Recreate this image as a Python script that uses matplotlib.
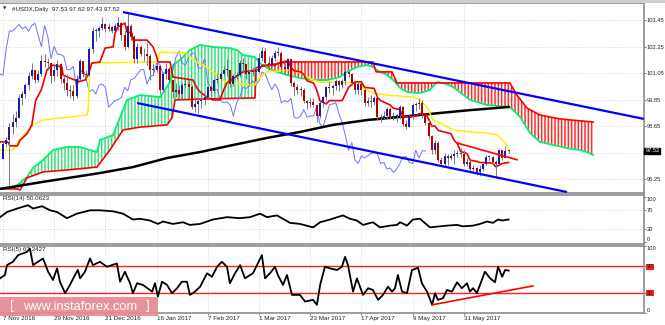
import numpy as np
import matplotlib.pyplot as plt
from matplotlib import font_manager
from matplotlib.patches import Polygon, Rectangle

# USDX daily bars, 7 Nov 2016 .. 20 Jun 2017 (bar index 0..158)
first_open = 97.15
closes = [97.85, 98.00, 98.60, 98.85, 99.00, 99.90, 100.10, 100.50, 100.90, 101.20,
          100.75, 101.00, 101.60, 101.55, 101.50, 100.90, 101.20, 101.45, 100.80, 100.60,
          100.30, 100.25, 100.00, 100.80, 101.60, 101.00, 100.95, 102.15, 102.95, 102.95,
          103.10, 103.25, 103.05, 103.15, 102.95, 103.20, 103.30, 102.75, 102.25, 103.20,
          102.70, 101.70, 102.25, 101.90, 101.90, 101.80, 101.20, 101.20, 101.35, 100.30,
          101.00, 101.25, 100.75, 100.20, 100.30, 100.10, 100.50, 100.55, 100.40, 99.50,
          99.65, 99.80, 99.85, 99.95, 100.40, 100.25, 100.75, 100.80, 101.00, 101.20,
          101.20, 100.55, 100.90, 100.95, 101.50, 101.45, 101.00, 101.10, 101.10, 101.10,
          101.75, 102.05, 101.50, 101.40, 101.75, 101.95, 101.95, 101.30, 101.25, 101.70,
          100.60, 100.40, 100.30, 100.30, 99.80, 99.70, 99.75, 99.60, 99.10, 99.70,
          99.95, 100.40, 100.35, 100.45, 100.70, 100.50, 100.70, 101.10, 101.00, 100.60,
          100.30, 100.55, 100.30, 99.70, 99.80, 99.75, 99.90, 99.05, 99.00, 99.10,
          99.40, 99.05, 99.10, 99.10, 99.50, 98.75, 98.60, 99.10, 99.60, 99.65,
          99.70, 99.20, 98.80, 98.20, 97.55, 97.90, 97.10, 96.95, 97.30, 97.20,
          97.30, 97.40, 97.45, 97.40, 96.95, 97.00, 96.70, 96.75, 96.55, 96.70,
          96.95, 97.25, 97.25, 97.00, 96.95, 97.55, 97.20, 97.53, 97.52]
highs = [97.95, 98.15, 98.80, 99.20, 99.35, 100.10, 100.25, 100.60, 101.10, 101.50,
         101.20, 101.20, 101.85, 101.90, 101.75, 101.50, 101.45, 101.65, 101.50, 100.90,
         101.00, 100.50, 100.50, 100.95, 101.70, 101.60, 101.20, 102.25, 103.15, 103.10,
         103.20, 103.60, 103.30, 103.30, 103.20, 103.30, 103.60, 103.35, 103.00, 103.80,
         103.25, 102.75, 102.40, 102.30, 102.20, 102.40, 101.90, 101.50, 101.50, 101.40,
         101.10, 101.50, 101.30, 100.75, 100.60, 100.50, 100.60, 100.80, 100.75, 100.50,
         99.95, 99.90, 100.30, 100.05, 100.45, 100.50, 100.80, 101.00, 101.15, 101.35,
         101.70, 101.20, 101.00, 101.10, 101.65, 101.75, 101.45, 101.20, 101.30, 101.35,
         101.95, 102.25, 102.20, 101.80, 101.85, 102.10, 102.25, 102.05, 101.45, 101.75,
         101.70, 100.70, 100.55, 100.45, 100.35, 99.85, 99.90, 99.90, 99.60, 99.80,
         100.00, 100.45, 100.70, 100.55, 100.80, 100.75, 100.80, 101.25, 101.20, 101.05,
         100.70, 100.65, 100.55, 100.35, 99.95, 100.05, 100.00, 99.95, 99.20, 99.35,
         99.50, 99.50, 99.30, 99.20, 99.60, 99.55, 98.90, 99.20, 99.70, 99.75,
         99.90, 99.85, 99.20, 98.90, 98.25, 98.00, 97.95, 97.25, 97.45, 97.40,
         97.45, 97.55, 97.55, 97.65, 97.55, 97.20, 97.10, 96.90, 96.80, 96.90,
         97.05, 97.35, 97.35, 97.30, 97.10, 97.60, 97.55, 97.75, 97.62]
lows = [97.15, 97.70, 96.00, 98.30, 98.60, 99.00, 99.60, 99.90, 100.30, 100.80,
        100.60, 100.65, 100.90, 101.30, 101.20, 100.60, 100.70, 100.90, 100.60, 100.30,
        100.00, 99.90, 99.85, 99.90, 100.75, 100.85, 100.75, 100.90, 101.95, 102.50,
        102.70, 103.00, 102.90, 102.95, 102.85, 102.95, 103.00, 102.55, 102.10, 102.20,
        102.55, 101.50, 101.50, 101.80, 101.60, 101.40, 100.75, 100.95, 101.10, 100.10,
        100.20, 100.80, 100.60, 99.90, 99.95, 99.90, 99.85, 100.35, 99.90, 99.40,
        99.30, 99.25, 99.45, 99.60, 99.90, 100.00, 100.15, 100.60, 100.70, 100.90,
        100.90, 100.40, 100.45, 100.80, 100.85, 101.10, 100.80, 100.55, 100.90, 100.70,
        101.05, 101.60, 101.35, 101.20, 101.30, 101.60, 101.80, 101.10, 101.00, 101.20,
        100.45, 100.05, 100.10, 100.00, 99.70, 99.40, 99.50, 99.50, 98.85, 99.00,
        99.50, 99.80, 100.15, 100.05, 100.30, 100.25, 100.35, 100.50, 100.85, 100.50,
        100.10, 100.10, 100.05, 99.55, 99.55, 99.50, 99.60, 98.90, 98.85, 98.95,
        98.95, 98.95, 98.90, 98.85, 98.95, 98.65, 98.50, 98.60, 98.95, 99.35,
        99.40, 99.00, 98.70, 98.05, 97.40, 97.40, 97.00, 96.85, 96.80, 96.90,
        97.10, 96.95, 97.25, 97.25, 96.85, 96.85, 96.60, 96.60, 96.45, 96.40,
        96.60, 96.90, 97.05, 96.90, 96.30, 96.95, 97.10, 97.20, 97.43]

date_ticks = [0, 16, 32, 48, 64, 80, 96, 112, 128, 144]
date_labels = ['7 Nov 2016', '29 Nov 2016', '21 Dec 2016', '16 Jan 2017', '7 Feb 2017',
               '1 Mar 2017', '23 Mar 2017', '17 Apr 2017', '9 May 2017', '31 May 2017']
price_ticks = [103.45, 102.25, 101.05, 99.85, 98.65, 97.45, 96.25]

# Ichimoku lines as (bar, price) vertices
tenkan = [(-0.9, 97.93), (1.5, 97.93), (2.2, 97.75), (4.5, 97.75), (5.3, 98.0), (7.5, 98.3),
          (9.0, 98.7), (10.2, 99.8), (12, 100.3), (13.75, 101.19), (15.6, 101.41),
          (18.4, 101.32), (18.75, 100.96), (20.9, 100.82), (22.5, 100.73), (23.1, 100.64),
          (25.6, 100.73), (26.6, 100.96), (27.8, 101.50), (30.3, 101.55), (31.9, 102.18),
          (34.4, 102.23), (35, 102.86), (35.9, 103.13), (38.1, 103.31), (38.75, 102.91),
          (40.3, 102.86), (40.6, 102.54), (45, 102.54), (46.9, 102.23), (48.1, 101.77),
          (48.4, 101.55), (52.2, 101.55), (53.1, 100.87), (59.4, 100.73), (60.6, 100.37),
          (61.6, 100.19), (63.75, 99.96), (65.6, 99.83), (67.8, 99.83), (69, 100.3),
          (70, 100.6), (72, 100.8), (75, 101.1), (80, 101.2), (81, 101.4), (85, 101.4),
          (86, 101.5), (89, 101.6), (90, 101.3), (91, 101.15), (93, 101.1), (94, 100.98),
          (95, 100.7), (97, 100.6), (98, 100.3), (99, 99.8), (101, 99.65), (102, 99.8),
          (106, 99.8), (107, 100.1), (108, 100.4), (110, 100.65), (112, 100.65),
          (113, 100.4), (116, 100.35), (117, 99.95), (118, 99.8), (121, 99.6),
          (122, 99.45), (124, 99.4), (125, 99.1), (127, 99.05), (129, 99.1), (130, 99.2),
          (132, 99.2), (133, 98.97), (134, 98.65), (135, 98.65), (136, 98.45),
          (140, 98.3), (141, 98.0), (142, 97.85), (143, 97.5), (145, 97.4), (146, 97.1),
          (148, 97.05), (149, 97.0), (153, 96.97), (154, 96.8), (156, 96.95), (158, 97.0)]
kijun = [(-0.9, 97.56), (3.1, 97.56), (4.4, 97.88), (9.4, 98.70), (12.5, 98.92),
         (20.9, 99.06), (26.25, 99.15), (26.6, 99.37), (27.2, 101.50), (48.1, 101.55),
         (49.1, 102.0), (57.5, 101.96), (58.4, 101.77), (61.6, 101.46), (63.75, 101.32),
         (65.6, 101.10), (70, 100.60), (78.75, 100.51), (79.4, 100.73), (82.5, 101.10),
         (90.6, 101.19), (92.8, 101.05), (96.9, 100.73), (99.1, 100.64), (111.6, 100.60),
         (112.5, 100.37), (115.6, 100.14), (120, 100.05), (128.1, 99.96), (130.3, 99.83),
         (132.5, 99.51), (134.4, 98.92), (136.6, 98.79), (140.6, 98.47), (146, 98.38),
         (151.25, 98.33), (154.4, 98.24), (156.9, 97.88), (158, 97.65)]
span_a = [(-0.9, 95.84), (3.1, 95.84), (5.3, 96.07), (6.25, 96.20), (7.5, 96.34),
          (9.4, 96.75), (12.5, 97.11), (15.6, 97.56), (20, 97.70), (24, 97.70),
          (27.2, 97.56), (29.4, 97.47), (30.3, 98.02), (34.4, 98.24), (37.5, 99.37),
          (38.75, 99.83), (42.8, 100.05), (49.1, 99.96), (52.2, 100.64), (53.1, 101.41),
          (55.3, 101.64), (58.4, 102.09), (61.6, 102.32), (65.6, 102.23), (70.9, 102.18),
          (73.1, 102.09), (75, 101.87), (78.75, 101.77), (80.3, 101.50), (81.5, 101.37),
          (82.5, 101.28), (85.6, 101.10), (88.75, 100.96), (92.8, 100.82), (96.9, 100.73),
          (101.25, 100.73), (105.3, 100.87), (107.5, 101.10), (110.6, 101.32),
          (113.75, 101.41), (115.6, 101.32), (117.8, 101.10), (120, 100.96),
          (121.9, 100.73), (124.1, 100.37), (126.25, 100.19), (130.3, 100.14),
          (133.4, 100.28), (135.6, 100.64), (137.5, 100.60), (140.6, 100.42),
          (146, 99.83), (151.25, 99.60), (158.4, 99.51), (161.6, 99.06), (164.7, 98.33),
          (167.8, 97.93), (171.9, 97.79), (176.25, 97.65), (180.3, 97.56),
          (182.5, 97.47), (184.4, 97.34)]
span_b = [(-0.9, 95.80), (4.4, 95.80), (5.3, 95.75), (7.5, 96.30), (12.5, 96.57),
          (20, 96.66), (29.4, 96.79), (30.3, 96.97), (33.4, 97.56), (37.5, 98.47),
          (42.8, 98.60), (51.25, 98.70), (52.8, 99.01), (53.75, 99.83), (61.6, 99.87),
          (78.75, 99.92), (79.1, 101.28), (81.5, 101.37), (88.75, 101.55), (115.6, 101.55),
          (116.6, 101.10), (121.6, 101.10), (123.1, 100.60), (158.4, 100.60),
          (160.6, 100.05), (163.75, 99.46), (167.8, 99.15), (174, 98.97), (184.4, 98.83)]
sma200 = [(-0.9, 95.80), (12.5, 96.12), (30.3, 96.52), (40.6, 96.79), (51.25, 97.20),
          (61.6, 97.47), (71.9, 97.79), (82.5, 98.11), (92.8, 98.38), (103.1, 98.70),
          (113.75, 98.92), (124.1, 99.06), (136.6, 99.24), (146, 99.37), (158, 99.51)]

# hand-drawn trend lines
channel_top = [(37.5, 103.81), (200.3, 98.97)]
channel_bottom = [(41.9, 99.69), (176.25, 95.66)]
price_trend = [(141.9, 97.88), (160.9, 97.11)]
rsi5_trend = [(134.1, 12.2), (165.6, 40.4)]

rsi14 = [(-0.9, 55.1), (1.25, 66.2), (4.4, 73.8), (7.8, 81.1), (9.4, 73.8), (12.2, 78.9),
         (14.7, 70), (16.9, 66.2), (20, 52.9), (23.1, 62.7), (27.2, 70), (30.3, 70),
         (34.4, 67.8), (37.5, 62.7), (40.6, 50), (42.8, 51.6), (45.9, 47.8), (48.4, 40.4),
         (50, 45.6), (53.1, 40.4), (56.25, 44), (58.4, 38.2), (61.6, 40.4), (65.6, 50),
         (70, 55.1), (74, 52.9), (77.2, 55.1), (80.3, 62.7), (82.5, 55.1), (85.6, 58.9),
         (89.7, 42.7), (92.8, 40.4), (96.9, 32.9), (99.1, 44), (102.2, 50), (106.25, 58.9),
         (108.4, 51.6), (110.6, 47.8), (112.5, 38.2), (115.6, 44), (117.8, 32.9),
         (121, 36.7), (123.1, 38.2), (124.1, 44), (126.25, 36.7), (128.1, 50),
         (130.3, 51.6), (133.4, 32.9), (136.6, 35.1), (138.75, 36.7), (141.9, 38.2),
         (143.75, 35.1), (146.9, 36.7), (149.1, 40.4), (151.25, 45.6), (153.1, 42.7),
         (154.7, 50), (156, 47.8), (158, 50.0623)]
rsi5 = [(-0.9, 51.8), (0.6, 56.7), (1.25, 71.5), (3.1, 76.4), (4.7, 86.3), (7.5, 91.2),
        (8.4, 96.2), (9.4, 71.5), (10.9, 76.4), (12.5, 81.4), (14.1, 61.6), (15.6, 49.3),
        (16.9, 66.6), (17.8, 46.7), (19.4, 29.6), (20.9, 41.9), (22.5, 56.7), (23.4, 64.1),
        (24.1, 51.8), (25.6, 61.6), (27.2, 81.4), (28.1, 71.5), (30.3, 76.4), (32.5, 69),
        (35.6, 74), (36.6, 46.7), (38.1, 61.6), (39.7, 44.4), (40.6, 29.6), (41.9, 44.4),
        (43.75, 41.9), (46.6, 31.9), (47.5, 44.4), (48.4, 24.5), (49.7, 46.7),
        (51.25, 41.9), (52.8, 29.6), (54.4, 37), (55.9, 46.7), (57.5, 46.7), (58.4, 27),
        (60, 31.9), (61.6, 39.3), (63.75, 59.2), (65.3, 54.1), (66.9, 69), (68.4, 76.4),
        (70, 69), (70.9, 44.4), (72.5, 59.2), (74.1, 71.5), (75.6, 51.8), (78.1, 59.2),
        (80.9, 86.3), (81.9, 51.8), (83.4, 59.2), (85, 69), (85.9, 56.7), (87.5, 41.9),
        (88.75, 56.7), (90.3, 27), (92.8, 27), (94.4, 17.1), (96.9, 19.6), (98.1, 12.2),
        (99.1, 41.9), (100.6, 69), (102.2, 66.6), (104.4, 64.1), (105.9, 69),
        (106.9, 83.8), (107.8, 71.5), (109.4, 31.9), (110.6, 51.8), (112.5, 27),
        (114.1, 37), (115.6, 34.4), (117.2, 19.6), (118.75, 27), (120.3, 39.3),
        (121.6, 31.9), (122.5, 37), (123.4, 56.7), (124.7, 31.9), (126.25, 29.6),
        (127.8, 64.1), (129.7, 67.5), (130.9, 44.4), (132.5, 31.9), (134.1, 12.2),
        (135, 29.6), (135.9, 19.6), (137.5, 22.1), (138.75, 34.4), (140.3, 31.9),
        (141.9, 45.9), (143.4, 37), (145, 44.4), (145.9, 31.9), (146.9, 37),
        (148.1, 29.6), (150.6, 61.6), (152.2, 51.8), (153.75, 45.9), (154.7, 69),
        (156, 54.1), (156.9, 64.1), (158, 63.3427)]

# ---- fonts ----
names = {f.name for f in font_manager.fontManager.ttflist}
if 'Liberation Sans Narrow' in names:
    plt.rcParams['font.family'] = ['Liberation Sans Narrow', 'DejaVu Sans']
    fs, fs_ax = 5.3, 5.0
else:
    plt.rcParams['font.family'] = ['Liberation Sans', 'DejaVu Sans']
    fs, fs_ax = 4.5, 4.15
plt.rcParams['hatch.linewidth'] = 1.1

W, H = 665, 325
fig = plt.figure(figsize=(W / 100, H / 100), dpi=100)
fig.patch.set_facecolor('white')


def panel(top, bottom):
    return fig.add_axes([0, 1 - bottom / H, 644 / W, (bottom - top) / H])


ax = panel(3, 193)
ax1 = panel(195, 244)
ax2 = panel(246, 313)

xlim = (-3 / 3.2, 641 / 3.2)
grid_col = '#c6c6dc'
for a in (ax, ax1, ax2):
    a.set_xlim(*xlim)
    a.set_facecolor('white')
    a.spines['left'].set_visible(False)
    for s in ('top', 'bottom', 'right'):
        a.spines[s].set_color('#8c8c8c')
        a.spines[s].set_linewidth(1.2)
    a.yaxis.tick_right()
    a.tick_params(axis='y', direction='out', length=1.4, width=0.6, color='#606060',
                  pad=0.6, labelsize=fs_ax, labelcolor='#202020')
    a.set_xticks(date_ticks)
    for t in date_ticks:
        a.axvline(t, color=grid_col, lw=0.6, ls=(0, (1, 2)), zorder=0)

ax.tick_params(axis='x', length=0, labelbottom=False)
ax1.tick_params(axis='x', length=0, labelbottom=False)
ax2.tick_params(axis='x', direction='out', length=1.5, width=0.6, color='#606060',
                pad=0.6, labelsize=fs, labelcolor='#202020')
ax2.set_xticklabels(date_labels, ha='left')

# ---- main price panel ----
ax.set_ylim(95.616, 104.22)
ax.set_yticks(price_ticks)
ax.set_yticklabels([('' if abs(p - 97.45) < 1e-6 else f'{p:.2f}') for p in price_ticks])
for p in price_ticks:
    ax.axhline(p, color=grid_col, lw=0.6, ls=(0, (1, 2)), zorder=0)

n = len(closes)
idx = np.arange(n)
opens = np.array([first_open] + closes[:-1])
c = np.array(closes)
hi = np.array(highs)
lo = np.array(lows)


def split(pts):
    a = np.array(pts, dtype=float)
    return a[:, 0], a[:, 1]


# cloud
ax_, ay_ = split(span_a)
bx_, by_ = split(span_b)
cross = 81.5
g_top = [(x, y) for x, y in zip(ax_, ay_) if x <= cross]
g_bot = [(x, y) for x, y in zip(bx_, by_) if x <= cross][::-1]
r_top = [(x, y) for x, y in zip(bx_, by_) if x >= cross]
r_bot = [(x, y) for x, y in zip(ax_, ay_) if x >= cross][::-1]
ax.add_patch(Polygon(g_top + g_bot, closed=True, facecolor='none', edgecolor='#3ee07e',
                     hatch='|||||', linewidth=0, zorder=1))
ax.add_patch(Polygon(r_top + r_bot, closed=True, facecolor='none', edgecolor='#ff2a2a',
                     hatch='|||||', linewidth=0, zorder=1))
ax.plot(ax_, ay_, color='#00f070', lw=1.3, zorder=2)
ax.plot(bx_, by_, color='#ff0000', lw=1.2, zorder=2)

# chikou span: closes shifted back 26 bars
ax.plot(idx - 26, c, color='#7070ff', lw=0.7, zorder=2)

# 200-day average
sx, sy = split(sma200)
ax.plot(sx, sy, color='black', lw=1.8, zorder=3)

# kijun / tenkan
kx, ky = split(kijun)
ax.plot(kx, ky, color='#ffee00', lw=1.1, zorder=3)
tx, ty = split(tenkan)
ax.plot(tx, ty, color='#ee0000', lw=1.2, zorder=3)

# candles
up = c >= opens
ax.vlines(idx, lo, hi, color='#7a7a7a', lw=0.7, zorder=4)
body_lo = np.minimum(opens, c)
body_h = np.maximum(np.abs(c - opens), 0.03)
ax.bar(idx, body_h, bottom=body_lo, width=0.62,
       color=np.where(up, '#1c1ca8', '#b80000'), linewidth=0, zorder=5)

# trend lines
for pts, col, w in ((channel_top, '#0000ff', 1.6), (channel_bottom, '#0000ff', 1.6),
                    (price_trend, '#ff0000', 1.2)):
    x, y = split(pts)
    ax.plot(x, y, color=col, lw=w, zorder=6, solid_capstyle='butt')

ax.text(1.002, closes[-1], f'{closes[-1]:.2f}', transform=ax.get_yaxis_transform(),
        color='white', fontsize=fs_ax, va='center', ha='left', zorder=10, clip_on=False,
        bbox=dict(boxstyle='square,pad=0.15', facecolor='black', edgecolor='black'))

# ---- RSI(14) ----
ax1.set_ylim(-3.3, 103.3)
ax1.set_yticks([0, 30, 70, 100])
labs = ax1.set_yticklabels(['0', '30', '70', '100'])
labs[0].set_va('bottom')
labs[3].set_va('top')
for v in (30, 70):
    ax1.axhline(v, color=grid_col, lw=0.6, ls=(0, (1, 2)), zorder=0)
rx, ry = split(rsi14)
ax1.plot(rx, ry, color='black', lw=1.3, zorder=3)
ax1.text(0.005, 0.97, f'RSI(14) {rsi14[-1][1]:.4f}', transform=ax1.transAxes,
         fontsize=fs, va='top', ha='left', color='#202020')

# ---- RSI(5) ----
ax2.set_ylim(0, 100)
ax2.set_yticks([0, 30, 70, 100])
labs = ax2.set_yticklabels(['0', '30', '70', '100'])
labs[0].set_va('bottom')
labs[3].set_va('top')
for lab in (labs[1], labs[2]):
    lab.set_bbox(dict(boxstyle='square,pad=0.1', facecolor='#ff1a1a', edgecolor='none'))
for v in (30, 70):
    ax2.axhline(v, color='#ff2020', lw=1.0, zorder=1)
rx, ry = split(rsi5)
ax2.plot(rx, ry, color='black', lw=1.3, zorder=3)
x, y = split(rsi5_trend)
ax2.plot(x, y, color='#ff0000', lw=1.2, zorder=4)
ax2.text(0.005, 0.985, f'RSI(5) {rsi5[-1][1]:.4f}', transform=ax2.transAxes,
         fontsize=fs, va='top', ha='left', color='#202020')

# ---- header, frame, watermark ----
fig.patches.append(Rectangle((0, 1 - 3 / H), 1, 3 / H, transform=fig.transFigure,
                             facecolor='#cfcfcf', edgecolor='none', zorder=0))
fig.text(3 / W, 1 - 9 / H, '\u25bc', fontsize=3.2, color='#303030', va='center',
         family='DejaVu Sans')
fig.text(12 / W, 1 - 9 / H,
         f'#USDX,Daily  {opens[-1]:.2f} {highs[-1]:.2f} {lows[-1]:.2f} {closes[-1]:.2f}',
         fontsize=fs, va='center', ha='left', color='#202020')

fig.patches.append(Rectangle((0, 1 - 316 / H), 158 / W, 19 / H, transform=fig.transFigure,
                             facecolor='#e48a90', edgecolor='none', alpha=0.92, zorder=5))
wm_y = 1 - 306.5 / H
fig.text(12 / W, wm_y, '[', fontsize=9.5, color='white', ha='center', va='center',
         zorder=6, family='Liberation Sans')
fig.text(80 / W, wm_y, 'www.instaforex.com', fontsize=9.3, color='white', ha='center',
         va='center', zorder=6, family='Liberation Sans')
fig.text(148 / W, wm_y, ']', fontsize=9.5, color='white', ha='center', va='center',
         zorder=6, family='Liberation Sans')

fig.savefig('out.png', dpi=100)
